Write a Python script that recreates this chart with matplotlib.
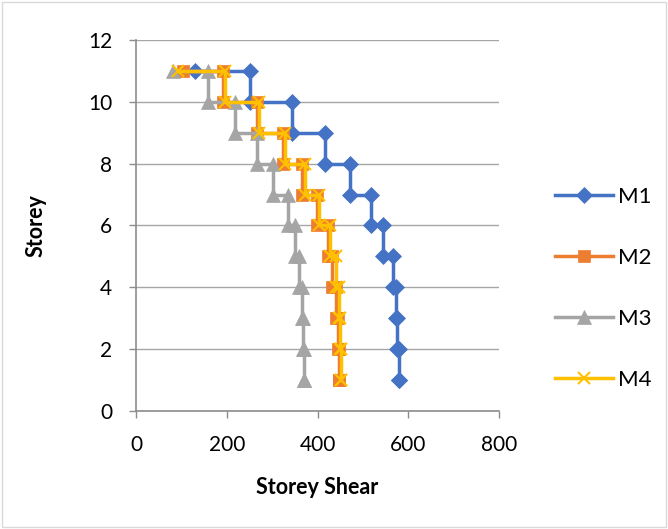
import matplotlib
matplotlib.use('Agg')
import matplotlib.pyplot as plt
from matplotlib.patches import Rectangle

plt.rcParams['font.family'] = ['Lato', 'DejaVu Sans']

# each storey appears twice: shear from above, then shear at that storey
storey = [11, 11, 10, 10, 9, 9, 8, 8, 7, 7, 6, 6, 5, 5, 4, 4, 3, 3, 2, 2, 1, 1]

m1 = [130, 251, 251, 343, 343, 417, 417, 471, 471, 517, 517, 545,
      545, 567, 567, 572, 572, 576, 576, 580, 580, 580]
m2 = [104, 192, 192, 266, 266, 325, 325, 366, 366, 398, 398, 424,
      424, 433, 433, 440, 440, 445, 445, 448, 448, 448]
m3 = [82, 159, 159, 218, 218, 266, 266, 302, 302, 336, 336, 350,
      350, 360, 360, 365, 365, 368, 368, 370, 370, 370]
m4 = [93, 196, 196, 272, 272, 328, 328, 372, 372, 404, 404, 427,
      427, 440, 440, 447, 447, 450, 450, 452, 452, 452]

labels = ['M1', 'M2', 'M3', 'M4']
colors = ['#4472C4', '#ED7D31', '#A5A5A5', '#FFC000']
markers = ['D', 's', '^', 'x']
msizes = [8.5, 8.5, 10, 9]

fig = plt.figure(figsize=(6.68, 5.29), dpi=100)
ax = fig.add_axes([0.2036, 0.2231, 0.5434, 0.7013])

for data, lab, c, m, ms in zip([m1, m2, m3, m4], labels, colors, markers, msizes):
    ax.plot(data, storey, color=c, lw=2.5, marker=m, markersize=ms,
            markeredgewidth=1.5 if m == 'x' else 0.5, label=lab)

ax.set_xlim(0, 800)
ax.set_ylim(0, 12)
ax.set_xticks([0, 200, 400, 600, 800])
ax.set_yticks([0, 2, 4, 6, 8, 10, 12])
ax.yaxis.grid(True, color='#a6a6a6', lw=1)
ax.set_axisbelow(True)

for s in ['top', 'right']:
    ax.spines[s].set_visible(False)
for s in ['left', 'bottom']:
    ax.spines[s].set_color('#8c8c8c')
    ax.spines[s].set_linewidth(1.2)
ax.tick_params(colors='#8c8c8c', length=5, width=1, labelsize=15,
               labelcolor='black', pad=12)

ax.set_xlabel('Storey Shear', fontsize=15.5, fontweight='bold', labelpad=16)
ax.set_ylabel('Storey', fontsize=15.5, fontweight='bold', labelpad=30)

ax.legend(loc='center left', bbox_to_anchor=(1.1, 0.33), frameon=False,
          fontsize=16, handlelength=2.6, labelspacing=1.85, handletextpad=0.2)

fig.patches.append(Rectangle((0.003, 0.003), 0.994, 0.994, transform=fig.transFigure,
                             fill=False, edgecolor='#d9d9d9', lw=1))

fig.savefig('out.png', dpi=100)
